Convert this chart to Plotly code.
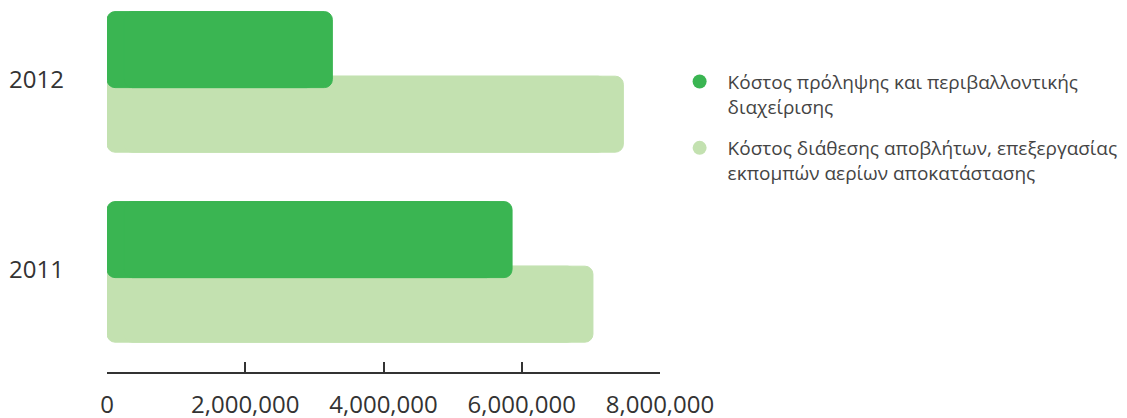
import plotly.graph_objects as go

years = ['2011', '2012']
prevention_cost = [5860000, 3260000]   # Κόστος πρόληψης και περιβαλλοντικής διαχείρισης
disposal_cost = [7030000, 7470000]     # Κόστος διάθεσης αποβλήτων, ...
tick_vals = [0, 2000000, 4000000, 6000000, 8000000]

DARK = '#3ab552'
LIGHT = '#c3e1b0'
FONT = 'Open Sans'
EDGE = 250000  # overlap margin so both rounded ends stay visible

def rounded_bar(fig, values, name, color, offset, group):
    # plotly rounds only the far end of a bar, so draw two overlapping pieces:
    # one growing leftwards (rounded at 0) and one growing rightwards
    left_base = [v - EDGE for v in values]
    left_len = [-(v - EDGE) for v in values]
    right_base = [EDGE for v in values]
    right_len = [v - EDGE for v in values]
    common = dict(y=years, orientation='h', width=0.4, offset=offset,
                  marker=dict(color=color, cornerradius=8, line=dict(width=1, color=color)),
                  legendgroup=group, showlegend=False, name=name,
                  customdata=values, hovertemplate='%{customdata:,}<extra></extra>')
    fig.add_trace(go.Bar(x=left_len, base=left_base, **common))
    fig.add_trace(go.Bar(x=right_len, base=right_base, **common))

fig = go.Figure()
rounded_bar(fig, disposal_cost,
            'Κόστος διάθεσης αποβλήτων, επεξεργασίας<br>εκπομπών αερίων αποκατάστασης',
            LIGHT, -0.38, 'b')
rounded_bar(fig, prevention_cost,
            'Κόστος πρόληψης και περιβαλλοντικής<br>διαχείρισης',
            DARK, -0.04, 'a')

# legend entries with round markers
fig.add_trace(go.Scatter(x=[None], y=[None], mode='markers', legendgroup='a',
                         marker=dict(color=DARK, size=14, symbol='circle'),
                         name='Κόστος πρόληψης και περιβαλλοντικής<br>διαχείρισης'))
fig.add_trace(go.Scatter(x=[None], y=[None], mode='markers', legendgroup='b',
                         marker=dict(color=LIGHT, size=14, symbol='circle'),
                         name='Κόστος διάθεσης αποβλήτων, επεξεργασίας<br>εκπομπών αερίων αποκατάστασης'))

# the page body adds an 8px margin, so the figure is 8px smaller on each side
fig.update_layout(
    template='none',
    width=1119, height=410,
    margin=dict(l=99, r=467, t=0, b=46),
    barmode='overlay',
    plot_bgcolor='white', paper_bgcolor='white',
    font=dict(family=FONT, color='#333333'),
    legend=dict(x=1.021, y=0.85, xanchor='left', yanchor='top',
                valign='top', font=dict(size=19, color='#444444'),
                itemwidth=46, traceorder='grouped', tracegroupgap=14),
)
fig.update_xaxes(range=[0, 8000000], tickvals=tick_vals, tickformat=',',
                 showgrid=False, zeroline=False, showline=True, automargin=False,
                 linecolor='#333333', linewidth=2,
                 ticks='inside', ticklen=10, tickwidth=2, tickcolor='#333333',
                 tickfont=dict(size=24, color='#333333'), ticklabelstandoff=10)
fig.update_yaxes(type='category', categoryorder='array', categoryarray=years,
                 range=[-0.537, 1.379], showgrid=False, zeroline=False,
                 showline=False, automargin=False, ticks='',
                 tickfont=dict(size=24, color='#333333'),
                 ticklabelstandoff=42)

fig.write_html('out.html')
